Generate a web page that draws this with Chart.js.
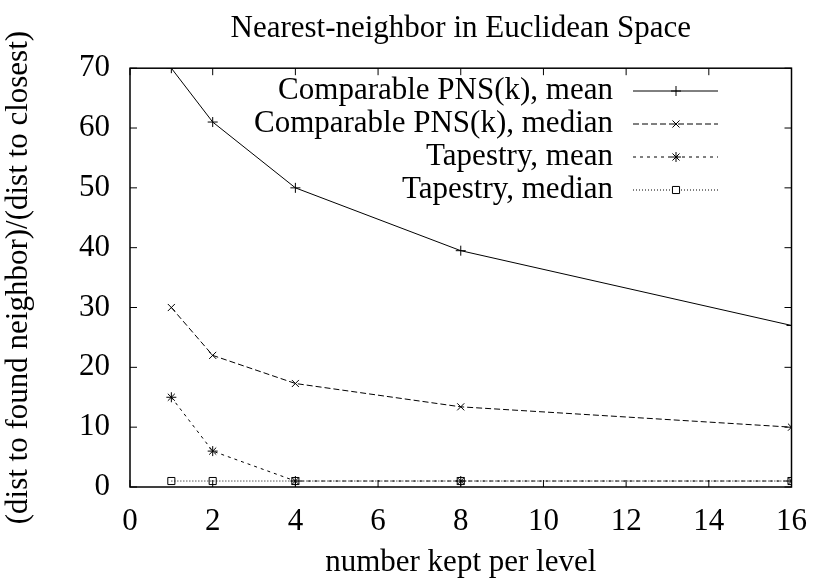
<!DOCTYPE html>
<html>
<head>
<meta charset="utf-8">
<script src="https://cdn.jsdelivr.net/npm/chart.js@4.4.0/dist/chart.umd.min.js"></script>
<style>
  html, body { margin: 0; padding: 0; background: #fff; }
  #wrap { width: 823px; height: 581px; }
</style>
</head>
<body>
<div id="wrap"><canvas id="nnChart"></canvas></div>
<script>
// data
const kept = [1, 2, 4, 8, 16];
const pnsMean = [70, 61, 50, 39.5, 27];
const pnsMedian = [30, 22, 17.3, 13.4, 10];
const tapMean = [15, 6, 1, 1, 1];
const tapMedian = [1, 1, 1, 1, 1];
const xTicks = [0, 2, 4, 6, 8, 10, 12, 14, 16];
const yTicks = [0, 10, 20, 30, 40, 50, 60, 70];

const serif = "'Liberation Serif', 'DejaVu Serif', serif";
const bigFont = { family: serif, size: 31 };

const toPts = (ys) => kept.map((x, i) => ({ x: x, y: ys[i] }));

const series = [
  { label: "Comparable PNS(k), mean", data: pnsMean, dash: [], point: "cross" },
  { label: "Comparable PNS(k), median", data: pnsMedian, dash: [6, 3], point: "crossRot" },
  { label: "Tapestry, mean", data: tapMean, dash: [3, 4], point: "star" },
  { label: "Tapestry, median", data: tapMedian, dash: [1, 2], point: "rect" },
];

// gnuplot style frame, inward ticks and the legend drawn right-aligned
const framePlugin = {
  id: "frame",
  afterDatasetsDraw(chart) {
    const { ctx, chartArea: a, scales } = chart;
    ctx.save();
    ctx.strokeStyle = "#000";
    ctx.lineWidth = 1.5;
    ctx.setLineDash([]);
    ctx.strokeRect(a.left, a.top, a.right - a.left, a.bottom - a.top);
    ctx.lineWidth = 1;
    xTicks.forEach((v) => {
      const px = scales.x.getPixelForValue(v);
      ctx.beginPath();
      ctx.moveTo(px, a.bottom); ctx.lineTo(px, a.bottom - 7);
      ctx.moveTo(px, a.top); ctx.lineTo(px, a.top + 7);
      ctx.stroke();
    });
    yTicks.forEach((v) => {
      const py = scales.y.getPixelForValue(v);
      ctx.beginPath();
      ctx.moveTo(a.left, py); ctx.lineTo(a.left + 7, py);
      ctx.moveTo(a.right, py); ctx.lineTo(a.right - 7, py);
      ctx.stroke();
    });

    // legend
    ctx.font = "31px " + serif;
    ctx.textAlign = "right";
    ctx.textBaseline = "middle";
    series.forEach((s, i) => {
      const y = 91 + i * 33;
      ctx.fillStyle = "#000";
      ctx.fillText(s.label, 613, y);
      ctx.setLineDash(s.dash);
      ctx.beginPath();
      ctx.moveTo(633, y); ctx.lineTo(718, y);
      ctx.stroke();
      ctx.setLineDash([]);
      ctx.fillStyle = "#fff";
      Chart.helpers.drawPoint(ctx, { pointStyle: s.point, radius: 5, borderWidth: 1 }, 676, y);
    });
    ctx.restore();
  },
};

new Chart(document.getElementById("nnChart"), {
  type: "line",
  data: {
    datasets: series.map((s) => ({
      label: s.label,
      data: toPts(s.data),
      borderColor: "#000",
      backgroundColor: "rgba(0,0,0,0)",
      borderWidth: 1,
      borderDash: s.dash,
      pointStyle: s.point,
      pointRadius: 5,
      pointBorderColor: "#000",
      pointBorderWidth: 1,
      tension: 0,
    })),
  },
  options: {
    responsive: true,
    maintainAspectRatio: false,
    animation: false,
    layout: { padding: { right: 22 } },
    plugins: {
      legend: { display: false },
      tooltip: { enabled: false },
      title: {
        display: true,
        text: "Nearest-neighbor in Euclidean Space",
        color: "#000",
        fullSize: false,
        font: { family: serif, size: 31, weight: "normal" },
        padding: { top: 10, bottom: 21 },
      },
    },
    scales: {
      x: {
        type: "linear",
        min: 0,
        max: 16,
        afterBuildTicks: (s) => { s.ticks = xTicks.map((v) => ({ value: v })); },
        afterFit: (s) => { s.height = 94; },
        grid: { display: false, drawTicks: false },
        border: { display: false },
        ticks: { color: "#000", font: bigFont, padding: 16, maxRotation: 0 },
        title: {
          display: true,
          text: "number kept per level",
          color: "#000",
          font: bigFont,
          padding: { top: 0, bottom: 0 },
        },
      },
      y: {
        min: 0,
        max: 70,
        afterBuildTicks: (s) => { s.ticks = yTicks.map((v) => ({ value: v })); },
        afterFit: (s) => { s.width = 130; },
        grid: { display: false, drawTicks: false },
        border: { display: false },
        ticks: { color: "#000", font: bigFont, padding: 20 },
        title: {
          display: true,
          text: "(dist to found neighbor)/(dist to closest)",
          color: "#000",
          font: bigFont,
          padding: { top: 0, bottom: 0 },
        },
      },
    },
  },
  plugins: [framePlugin],
});
</script>
</body>
</html>
